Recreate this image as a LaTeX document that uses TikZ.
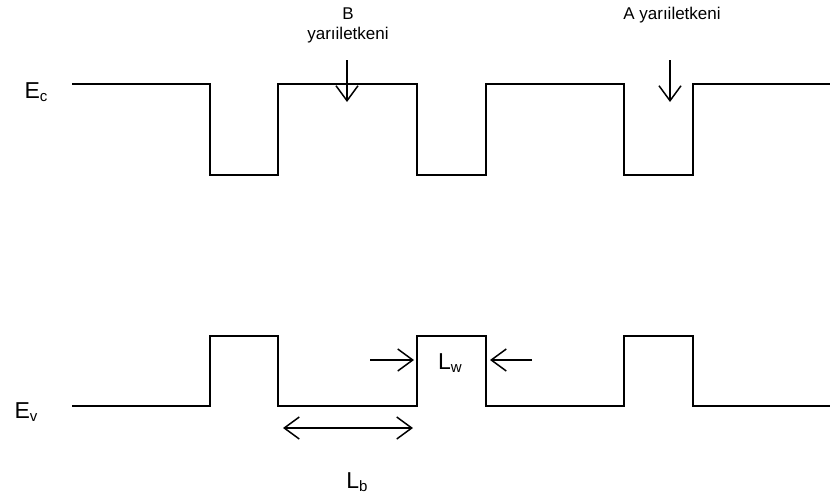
\documentclass[tikz,border=0pt]{standalone}
\usepackage{fontspec}
\setmainfont{Liberation Sans}
\usetikzlibrary{arrows.meta}
\tikzset{
  band/.style={line width=2pt, line join=miter},
  tipb/.tip={Straight Barb[length=15pt,width=22pt,line width=1.5pt]},
  ptr/.style={line width=1.5pt, -tipb},
  dptr/.style={line width=1.5pt, tipb-tipb},
  lbl/.style={inner sep=0pt, font=\fontsize{17}{20}\selectfont, align=center},
  big/.style={inner sep=0pt, font=\fontsize{23}{25}\selectfont}
}
\newcommand{\sbx}[1]{\raisebox{-0.3ex}{\fontsize{15}{15}\selectfont #1}}
\begin{document}
\begin{tikzpicture}[x=1pt,y=-1pt]
\useasboundingbox (0,0) rectangle (830,499);
% conduction band edge
\draw[band] (72,84) -- (210,84) -- (210,175) -- (278,175) -- (278,84)
  -- (417,84) -- (417,175) -- (486,175) -- (486,84)
  -- (624,84) -- (624,175) -- (693,175) -- (693,84) -- (830,84);
% valence band edge
\draw[band] (72,406) -- (210,406) -- (210,336) -- (278,336) -- (278,406)
  -- (417,406) -- (417,336) -- (486,336) -- (486,406)
  -- (624,406) -- (624,336) -- (693,336) -- (693,406) -- (830,406);
% labels
\node[big] (ec) at (36,92) {E\sbx{c}};
\node[big] (ev) at (26,412) {E\sbx{v}};
\node[lbl] (blab) at (348,25) {B\\yarıiletkeni};
\node[lbl] (alab) at (672,15) {A yarıiletkeni};
\node[big] (lw) at (450,363) {L\sbx{w}};
\node[big] (lb) at (357,482) {L\sbx{b}};
% arrow coordinates
\coordinate (b0) at (347,60);
\coordinate (b1) at (347,102);
\coordinate (a0) at (670,60);
\coordinate (a1) at (670,102);
\coordinate (w0) at (370,360);
\coordinate (w1) at (414,360);
\coordinate (w2) at (532,360);
\coordinate (w3) at (490,360);
\coordinate (l0) at (283,428);
\coordinate (l1) at (413,428);
\draw[ptr] (b0) -- (b1);
\draw[ptr] (a0) -- (a1);
\draw[ptr] (w0) -- (w1);
\draw[ptr] (w2) -- (w3);
\draw[dptr] (l0) -- (l1);
\end{tikzpicture}
\end{document}
